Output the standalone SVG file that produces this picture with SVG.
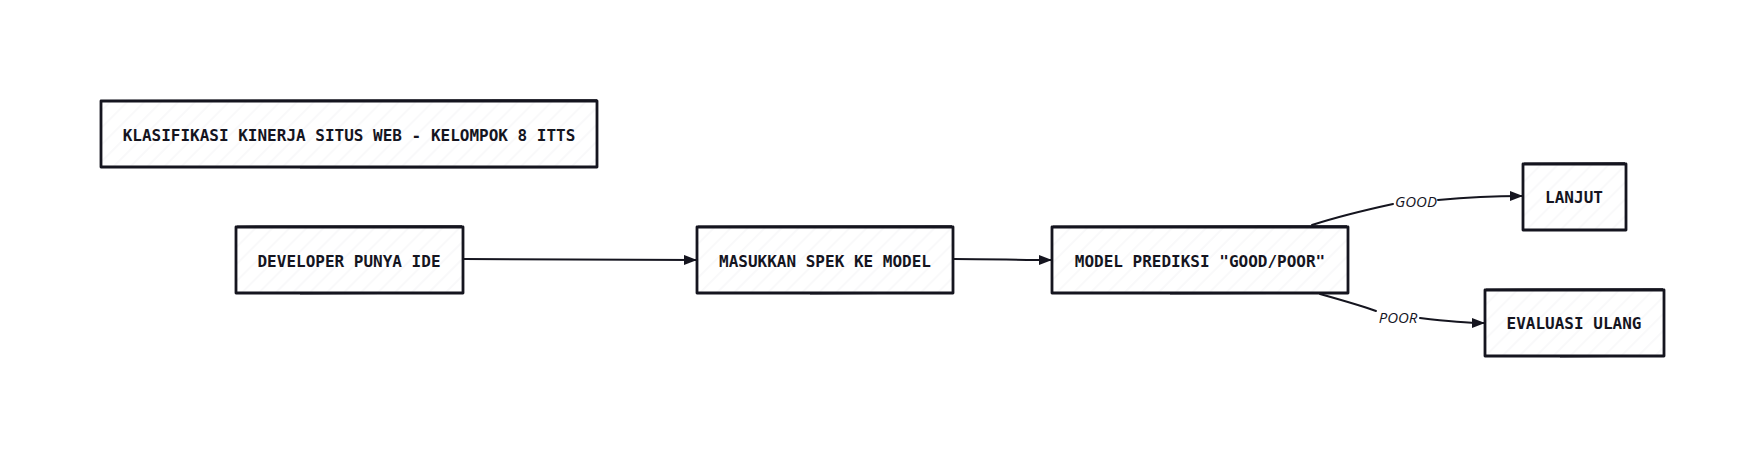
<svg xmlns="http://www.w3.org/2000/svg" width="1763" height="457" viewBox="0 0 1763 457">
<style>
.box{fill:url(#hatch);stroke:#15151f;stroke-width:2.8;stroke-linejoin:round}
.sk{fill:none;stroke:#15151f;stroke-width:1.2;opacity:0.8}
.t{font-family:"DejaVu Sans Mono","Liberation Mono",monospace;font-weight:bold;font-size:16px;fill:#15151f;text-anchor:middle;dominant-baseline:central}
.lbl{font-family:"Open Sans","Liberation Sans",sans-serif;font-style:italic;font-size:15px;fill:#15151f;text-anchor:middle;dominant-baseline:central}
.c{fill:none;stroke:#15151f;stroke-width:2;stroke-linecap:round}
</style>
<defs>
<pattern id="hatch" patternUnits="userSpaceOnUse" width="12" height="12" patternTransform="rotate(-45)">
<rect width="12" height="12" fill="#ffffff"/>
<line x1="0" y1="6" x2="12" y2="6" stroke="#ebebef" stroke-width="0.6"/>
</pattern>
<marker id="ah" viewBox="0 0 13 10" refX="12" refY="5" markerWidth="13" markerHeight="10" markerUnits="userSpaceOnUse" orient="auto">
<path d="M0,0 L13,5 L0,10 Z" fill="#15151f"/>
</marker>
</defs>
<rect width="1763" height="457" fill="#ffffff"/>
<g id="title">
<rect class="box" x="101" y="101" width="496" height="66"/>
<path class="sk" d="M102,100.5 L597,99.5 M300,168 L596,167.5"/>
<text class="t" x="349" y="135">KLASIFIKASI KINERJA SITUS WEB - KELOMPOK 8 ITTS</text>
</g>
<g id="developer">
<rect class="box" x="236" y="227" width="227" height="66"/>
<path class="sk" d="M237,226 L462,225.5 M300,294 L462,293"/>
<text class="t" x="349" y="261">DEVELOPER PUNYA IDE</text>
</g>
<g id="masukkan">
<rect class="box" x="697" y="227" width="256" height="66"/>
<path class="sk" d="M698,226 L952,225.5 M810,294 L952,293"/>
<text class="t" x="825" y="261">MASUKKAN SPEK KE MODEL</text>
</g>
<g id="model">
<rect class="box" x="1052" y="227" width="296" height="66"/>
<path class="sk" d="M1053,226 L1347,225.5 M1170,294 L1347,293"/>
<text class="t" x="1200" y="261">MODEL PREDIKSI "GOOD/POOR"</text>
</g>
<g id="lanjut">
<rect class="box" x="1523" y="164" width="103" height="66"/>
<path class="sk" d="M1524,163 L1625,162.5"/>
<text class="t" x="1574" y="197">LANJUT</text>
</g>
<g id="evaluasi">
<rect class="box" x="1485" y="290" width="179" height="66"/>
<path class="sk" d="M1486,289 L1663,288.5 M1560,357 L1663,356"/>
<text class="t" x="1574" y="323">EVALUASI ULANG</text>
</g>
<g id="connectors">
<path class="c" d="M464,259 L696,260" marker-end="url(#ah)"/>
<path class="c" d="M954,259 C990,259 1020,260 1051,260" marker-end="url(#ah)"/>
<path class="c" d="M1312,225 C1340,216 1370,209 1393,204"/>
<path class="c" d="M1438,200 C1470,197 1500,196 1522,196" marker-end="url(#ah)"/>
<text class="lbl" x="1416" y="201">GOOD</text>
<path class="c" d="M1320,294 C1345,301 1365,307 1376,311"/>
<path class="c" d="M1420,318 C1445,321 1465,323 1484,323" marker-end="url(#ah)"/>
<text class="lbl" x="1398" y="317">POOR</text>
</g>
</svg>
